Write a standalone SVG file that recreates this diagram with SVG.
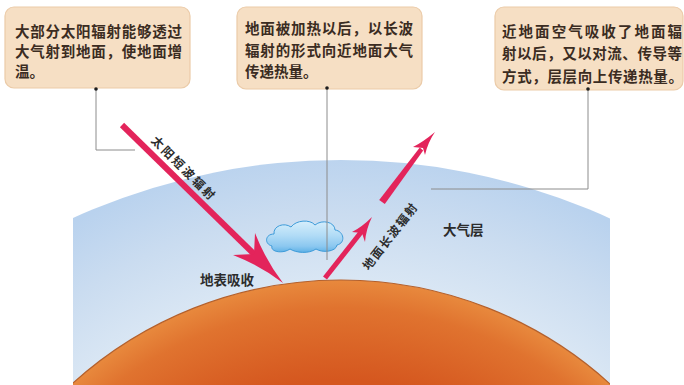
<svg xmlns="http://www.w3.org/2000/svg" width="684" height="385" viewBox="0 0 684 385">
  <defs>
    <style>
      .box { fill: #f6dfc4; stroke: #ebcba8; stroke-width: 1.2; }
      .boxtext { font-family: "Noto Sans CJK SC", "Noto Sans", sans-serif; font-size: 14.5px; font-weight: 700; fill: #3b2c22; }
      .label { font-family: "Noto Sans CJK SC", "Noto Sans", sans-serif; font-size: 13.5px; font-weight: 700; fill: #2c2c2c; }
      .arrowlabel { font-family: "Noto Sans CJK SC", "Noto Sans", sans-serif; font-size: 12px; font-weight: 700; fill: #2c2c2c; }
      .lead { fill: none; stroke: #8c8c8c; stroke-width: 1; }
      .dot { fill: #1e1e1e; }
      .ray { fill: #e3245b; }
      .rayline { stroke: #e3245b; fill: none; }
    </style>
    <radialGradient id="airGrad" gradientUnits="userSpaceOnUse" cx="341" cy="680" r="530">
      <stop offset="0.72" stop-color="#dde9f5"/>
      <stop offset="0.88" stop-color="#cadcf0"/>
      <stop offset="1" stop-color="#b9d2ee"/>
    </radialGradient>
    <radialGradient id="earthGrad" gradientUnits="userSpaceOnUse" cx="341" cy="680" r="400">
      <stop offset="0.75" stop-color="#d5571f"/>
      <stop offset="0.93" stop-color="#e0732f"/>
      <stop offset="1" stop-color="#e8893d"/>
    </radialGradient>
    <linearGradient id="cloudGrad" x1="0" y1="0" x2="0" y2="1">
      <stop offset="0" stop-color="#d6eefc"/>
      <stop offset="0.45" stop-color="#b2dcf6"/>
      <stop offset="0.8" stop-color="#8cc8f0"/>
      <stop offset="1" stop-color="#5fb1e6"/>
    </linearGradient>
    <clipPath id="scene">
      <rect x="73" y="0" width="537" height="385"/>
    </clipPath>
  </defs>

  <rect width="684" height="385" fill="#ffffff"/>

  <!-- atmosphere and ground -->
  <g id="atmosphere" clip-path="url(#scene)">
    <circle cx="341" cy="808" r="648" fill="url(#airGrad)"/>
  </g>
  <g id="earth" clip-path="url(#scene)">
    <circle cx="341" cy="680" r="400" fill="url(#earthGrad)" stroke="#b4602c" stroke-width="1.2"/>
  </g>

  <!-- cloud -->
  <g id="cloud">
    <path d="M272,246 C264,244 265,234 274,234 C273,226 284,222 291,227 C296,220 310,219 315,225 C322,219 335,222 335,230 C344,231 346,243 337,245 C336,252 322,253 316,249 C309,254 296,253 290,249 C283,254 270,252 272,246 Z" fill="url(#cloudGrad)" stroke="#3d9bd9" stroke-width="1"/>
  </g>

  <!-- text boxes -->
  <g id="box-solar">
    <rect class="box" x="5" y="7" width="185" height="81" rx="9"/>
    <text class="boxtext" x="15" y="37" textLength="167" lengthAdjust="spacing">大部分太阳辐射能够透过</text>
    <text class="boxtext" x="15" y="57" textLength="167" lengthAdjust="spacing">大气射到地面，使地面增</text>
    <text class="boxtext" x="15" y="77">温。</text>
  </g>
  <g id="box-ground">
    <rect class="box" x="237" y="7" width="185" height="82" rx="9"/>
    <text class="boxtext" x="245" y="34" textLength="168" lengthAdjust="spacing">地面被加热以后，以长波</text>
    <text class="boxtext" x="245" y="56" textLength="168" lengthAdjust="spacing">辐射的形式向近地面大气</text>
    <text class="boxtext" x="245" y="77">传递热量。</text>
  </g>
  <g id="box-air">
    <rect class="box" x="495" y="7" width="188" height="83" rx="9"/>
    <text class="boxtext" x="502" y="37" textLength="180" lengthAdjust="spacing">近地面空气吸收了地面辐</text>
    <text class="boxtext" x="502" y="59" textLength="180" lengthAdjust="spacing">射以后，又以对流、传导等</text>
    <text class="boxtext" x="502" y="82" textLength="181" lengthAdjust="spacing">方式，层层向上传递热量。</text>
  </g>

  <!-- leader lines -->
  <g id="connectors">
    <polyline class="lead" points="96,89 96,150 135,150"/>
    <polyline class="lead" points="327,88 327,260"/>
    <polyline class="lead" points="588,89 588,189 431,189"/>
    <circle class="dot" cx="96" cy="89" r="1.8"/>
    <circle class="dot" cx="327" cy="88" r="1.8"/>
    <circle class="dot" cx="588" cy="89" r="1.8"/>
  </g>

  <!-- incoming short-wave ray -->
  <g id="ray-in">
    <line class="rayline" x1="122" y1="125" x2="256" y2="256" stroke-width="6"/>
    <path class="ray" d="M283,283 Q261,266 233,255 L254,254 L255,233 Q266,261 283,283 Z"/>
  </g>

  <!-- outgoing long-wave ray -->
  <g id="ray-out">
    <line class="rayline" x1="325" y1="278" x2="362" y2="231" stroke-width="5"/>
    <path class="ray" d="M372,217 Q362,227 352,232 L362,233 L365,242 Q366,229 372,217 Z"/>
    <polygon class="ray" points="384.8,204.1 379.2,199.9 419.8,147.6 423.2,150.4"/>
    <path class="ray" d="M435,132 Q423,142 413,147 L423,148 L425,155 Q428,142 435,132 Z"/>
  </g>

  <!-- labels -->
  <g id="labels">
    <text class="arrowlabel" text-anchor="middle" dominant-baseline="central" transform="translate(184,167) rotate(45)" textLength="84" lengthAdjust="spacing">太阳短波辐射</text>
    <text class="arrowlabel" text-anchor="middle" dominant-baseline="central" transform="translate(389,236) rotate(-52)" textLength="80" lengthAdjust="spacing">地面长波辐射</text>
    <text class="label" x="443" y="235">大气层</text>
    <text class="label" x="200" y="285">地表吸收</text>
  </g>
</svg>
